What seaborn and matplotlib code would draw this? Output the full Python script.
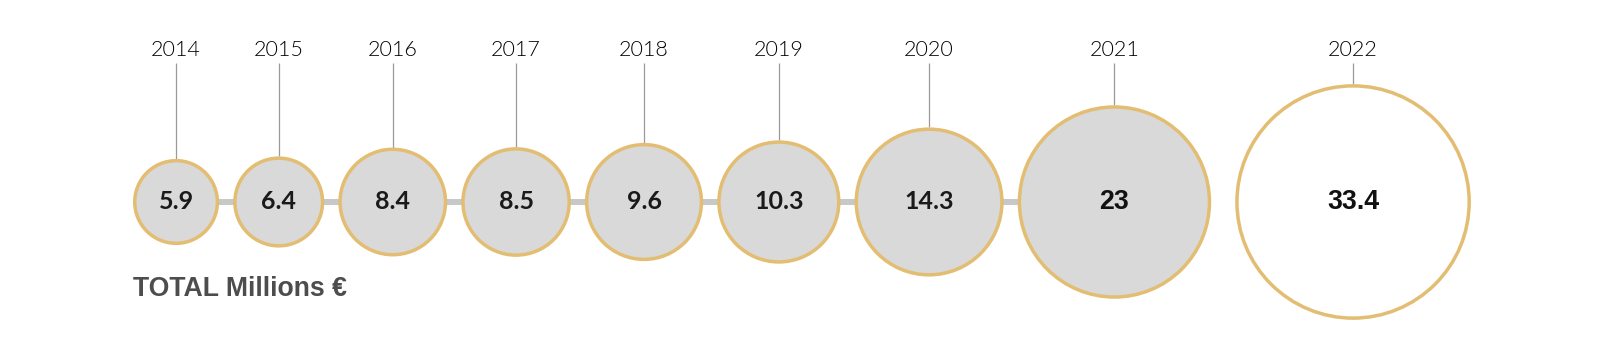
import numpy as np
import pandas as pd
import matplotlib
matplotlib.use("Agg")
import matplotlib.pyplot as plt
import seaborn as sns

# Yearly totals, millions of euros
years = ["2014", "2015", "2016", "2017", "2018", "2019", "2020", "2021", "2022"]
totals = [5.9, 6.4, 8.4, 8.5, 9.6, 10.3, 14.3, 23, 33.4]
value_labels = ["5.9", "6.4", "8.4", "8.5", "9.6", "10.3", "14.3", "23", "33.4"]
title = "TOTAL Millions €"

W, H, DPI = 1600, 347, 100
GOLD = "#e2bd72"
GREY_FILL = "#d9d9d9"
EDGE_PT = 2.5
SIZE_RANGE = (3543, 27960)          # marker area (pt^2) for min / max total

sns.set_theme(style="white")
plt.rcParams["font.family"] = ["Lato", "DejaVu Sans"]

fig = plt.figure(figsize=(W / DPI, H / DPI), dpi=DPI)
ax = fig.add_axes([0, 0, 1, 1])
ax.set_xlim(0, W)
ax.set_ylim(H, 0)
ax.axis("off")

# radius (in pixels) of each bubble under the same linear-area size mapping seaborn uses
vals = np.array(totals, dtype=float)
norm = (vals - vals.min()) / (vals.max() - vals.min())
areas = SIZE_RANGE[0] + norm * (SIZE_RANGE[1] - SIZE_RANGE[0])
radius_px = (np.sqrt(areas) + EDGE_PT) / 2 * DPI / 72

# place bubbles side by side with a small gap; the last one stands apart
left_edge, gap, wide_gap = 133, 14, 24
xs = [left_edge + radius_px[0]]
for i in range(1, len(vals)):
    g = wide_gap if i == len(vals) - 1 else gap
    xs.append(xs[-1] + radius_px[i - 1] + g + radius_px[i])
xs = np.array(xs)
cy = 202

df = pd.DataFrame({"year": years, "total": totals, "x": xs, "y": cy})

# connector bar running behind the filled bubbles
sns.lineplot(data=df.iloc[:-1], x="x", y="y", color="#c8c8c8", lw=4.3,
             ax=ax, zorder=1, legend=False)

sns.scatterplot(data=df, x="x", y="y", size="total", sizes=SIZE_RANGE,
                size_norm=(vals.min(), vals.max()), marker="o",
                color=GREY_FILL, edgecolor=GOLD, linewidth=EDGE_PT,
                ax=ax, zorder=2, legend=False)
coll = ax.collections[-1]
fills = [GREY_FILL] * (len(vals) - 1) + ["white"]
coll.set_facecolors(fills)

# leader lines from year labels down to bubble tops
ax.vlines(xs, 63, cy - radius_px, color="#9a9a9a", lw=0.9, zorder=0)

for i, (x, yr, lab) in enumerate(zip(xs, years, value_labels)):
    ax.text(x, 56, yr, ha="center", va="baseline", fontsize=15.5,
            fontweight=300, color="#000000")
    if i < len(vals) - 2:
        ax.text(x, cy + 7, lab, ha="center", va="baseline", fontsize=18,
                fontweight="bold", color="#1a1a1a", zorder=3)
    else:
        ax.text(x, cy + 7, lab, ha="center", va="baseline", fontsize=19.3,
                fontweight="bold", color="#111111", zorder=3,
                family=["Liberation Sans", "DejaVu Sans"])

ax.text(133, 296, title, ha="left", va="baseline", fontsize=19.2,
        fontweight="bold", color="#4d4d4d",
        family=["Liberation Sans", "DejaVu Sans"])

fig.savefig("out.png", dpi=DPI, facecolor="white")
